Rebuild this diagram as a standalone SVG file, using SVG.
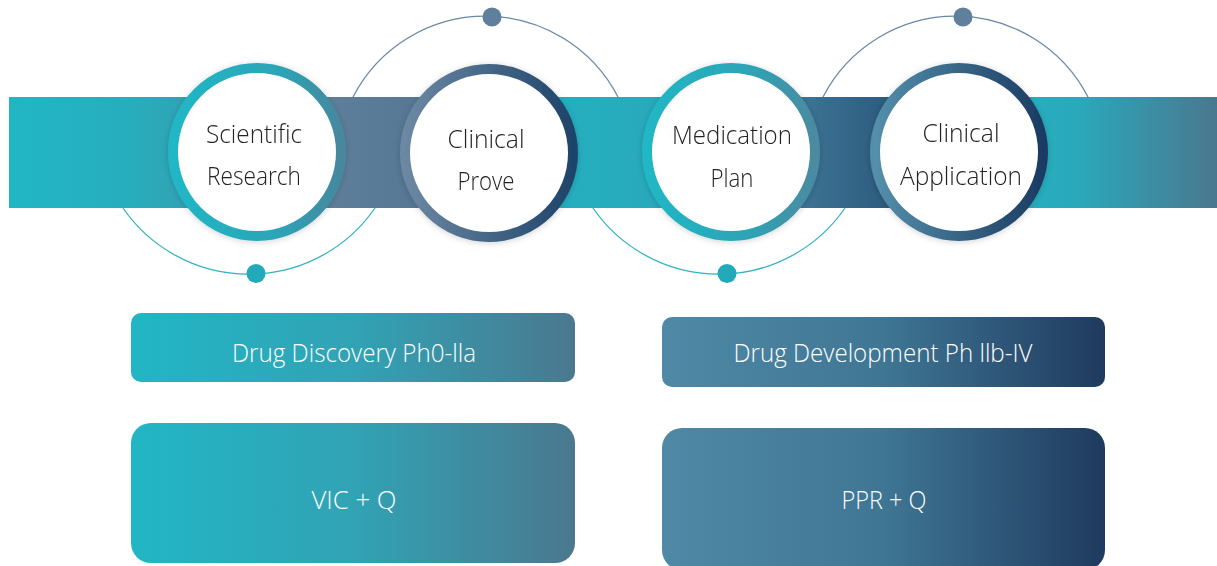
<svg xmlns="http://www.w3.org/2000/svg" width="1217" height="566" viewBox="0 0 1217 566">
<style>
.ct{font-family:"Open Sans","Noto Sans","Liberation Sans",sans-serif;font-size:26px;font-weight:300;fill:#222222;text-anchor:middle}
.bt{font-family:"Open Sans","Noto Sans","Liberation Sans",sans-serif;font-size:25px;font-weight:300;fill:#ffffff;text-anchor:middle}
.orbT{fill:none;stroke:#2fb2c2;stroke-width:1.3}
.orbS{fill:none;stroke:#6a88a6;stroke-width:1.3}
.ring{fill:#ffffff;stroke-width:10}
</style>
<defs>
<linearGradient id="b1" x1="0" x2="1" y1="0" y2="0"><stop offset="0" stop-color="#21b6c5"/><stop offset="0.5" stop-color="#28adbd"/><stop offset="1" stop-color="#3c96a8"/></linearGradient>
<linearGradient id="b2" x1="0" x2="1" y1="0" y2="0"><stop offset="0" stop-color="#66849f"/><stop offset="1" stop-color="#4e7291"/></linearGradient>
<linearGradient id="b3" x1="0" x2="1" y1="0" y2="0"><stop offset="0" stop-color="#22b3c3"/><stop offset="1" stop-color="#2ba5b8"/></linearGradient>
<linearGradient id="b4" x1="0" x2="1" y1="0" y2="0"><stop offset="0" stop-color="#4a88a6"/><stop offset="1" stop-color="#1f466c"/></linearGradient>
<linearGradient id="b5" x1="0" x2="1" y1="0" y2="0"><stop offset="0" stop-color="#21b6c5"/><stop offset="0.45" stop-color="#2aa9bb"/><stop offset="1" stop-color="#4a778f"/></linearGradient>
<linearGradient id="r1" x1="0" x2="1" y1="0" y2="0"><stop offset="0" stop-color="#20b7c6"/><stop offset="0.6" stop-color="#2aa6b8"/><stop offset="1" stop-color="#46889e"/></linearGradient>
<linearGradient id="r2" x1="0" x2="1" y1="0" y2="0"><stop offset="0" stop-color="#6c88a3"/><stop offset="1" stop-color="#1e4469"/></linearGradient>
<linearGradient id="r3" x1="0" x2="1" y1="0" y2="0"><stop offset="0" stop-color="#20b7c6"/><stop offset="0.6" stop-color="#2da4b6"/><stop offset="1" stop-color="#4b8aa0"/></linearGradient>
<linearGradient id="r4" x1="0" x2="1" y1="0" y2="0"><stop offset="0" stop-color="#538fab"/><stop offset="1" stop-color="#1c3b62"/></linearGradient>
<linearGradient id="g1" x1="0" x2="1" y1="0" y2="0"><stop offset="0" stop-color="#21b6c5"/><stop offset="0.5" stop-color="#31a3b5"/><stop offset="1" stop-color="#4a788f"/></linearGradient>
<linearGradient id="g2" x1="0" x2="1" y1="0" y2="0"><stop offset="0" stop-color="#4f89a6"/><stop offset="0.5" stop-color="#3f7694"/><stop offset="1" stop-color="#1f3a5f"/></linearGradient>
<filter id="sh" x="-20%" y="-20%" width="140%" height="140%"><feGaussianBlur in="SourceAlpha" stdDeviation="3"/><feOffset dx="0" dy="1" result="o"/><feFlood flood-color="#000" flood-opacity="0.18"/><feComposite in2="o" operator="in"/><feMerge><feMergeNode/><feMergeNode in="SourceGraphic"/></feMerge></filter>
</defs>
<rect width="1217" height="566" fill="#ffffff"/>
<g id="connectors">
<path class="orbT" d="M123,208 A153,153 0 0 0 375,208"/>
<circle cx="256" cy="273.5" r="9.5" fill="#22a9ba"/>
<path class="orbS" d="M353,97 A149,149 0 0 1 618,97"/>
<circle cx="492" cy="17" r="9.5" fill="#5f7f9d"/>
<path class="orbT" d="M593,208 A153,153 0 0 0 845,208"/>
<circle cx="727" cy="273.5" r="9.5" fill="#22a9ba"/>
<path class="orbS" d="M823,97 A149,149 0 0 1 1088,97"/>
<circle cx="963" cy="17" r="9.5" fill="#5f7f9d"/>
</g>
<g id="band">
<rect x="9" y="97" width="248" height="111" fill="url(#b1)"/>
<rect x="256" y="97" width="234" height="111" fill="url(#b2)"/>
<rect x="489" y="97" width="243" height="111" fill="url(#b3)"/>
<rect x="731" y="97" width="231" height="111" fill="url(#b4)"/>
<rect x="961" y="97" width="256" height="111" fill="url(#b5)"/>
</g>
<g id="node-scientific-research" filter="url(#sh)">
<circle class="ring" cx="257" cy="152" r="84" stroke="url(#r1)"/>
<text class="ct" x="254" y="143" textLength="96" lengthAdjust="spacingAndGlyphs">Scientific</text>
<text class="ct" x="254" y="185" textLength="94" lengthAdjust="spacingAndGlyphs">Research</text>
</g>
<g id="node-clinical-prove" filter="url(#sh)">
<circle class="ring" cx="489" cy="153" r="84" stroke="url(#r2)"/>
<text class="ct" x="486" y="148" textLength="77" lengthAdjust="spacingAndGlyphs">Clinical</text>
<text class="ct" x="486" y="190" textLength="57" lengthAdjust="spacingAndGlyphs">Prove</text>
</g>
<g id="node-medication-plan" filter="url(#sh)">
<circle class="ring" cx="731" cy="152" r="84" stroke="url(#r3)"/>
<text class="ct" x="732" y="144" textLength="120" lengthAdjust="spacingAndGlyphs">Medication</text>
<text class="ct" x="732" y="187" textLength="43" lengthAdjust="spacingAndGlyphs">Plan</text>
</g>
<g id="node-clinical-application" filter="url(#sh)">
<circle class="ring" cx="959" cy="152" r="84" stroke="url(#r4)"/>
<text class="ct" x="961" y="142" textLength="77" lengthAdjust="spacingAndGlyphs">Clinical</text>
<text class="ct" x="961" y="185" textLength="122" lengthAdjust="spacingAndGlyphs">Application</text>
</g>
<g id="node-drug-discovery">
<rect x="131" y="313" width="444" height="69" rx="10" fill="url(#g1)"/>
<text class="bt" x="354" y="362" textLength="244" lengthAdjust="spacingAndGlyphs">Drug Discovery Ph0-lla</text>
</g>
<g id="node-vic-q">
<rect x="131" y="423" width="444" height="140" rx="20" fill="url(#g1)"/>
<text class="bt" x="354" y="509" textLength="85" lengthAdjust="spacingAndGlyphs">VIC + Q</text>
</g>
<g id="node-drug-development">
<rect x="662" y="317" width="443" height="70" rx="10" fill="url(#g2)"/>
<text class="bt" x="883" y="362" textLength="299" lengthAdjust="spacingAndGlyphs">Drug Development Ph llb-IV</text>
</g>
<g id="node-ppr-q">
<rect x="662" y="428" width="443" height="142" rx="20" fill="url(#g2)"/>
<text class="bt" x="884" y="509" textLength="85" lengthAdjust="spacingAndGlyphs">PPR + Q</text>
</g>
</svg>
